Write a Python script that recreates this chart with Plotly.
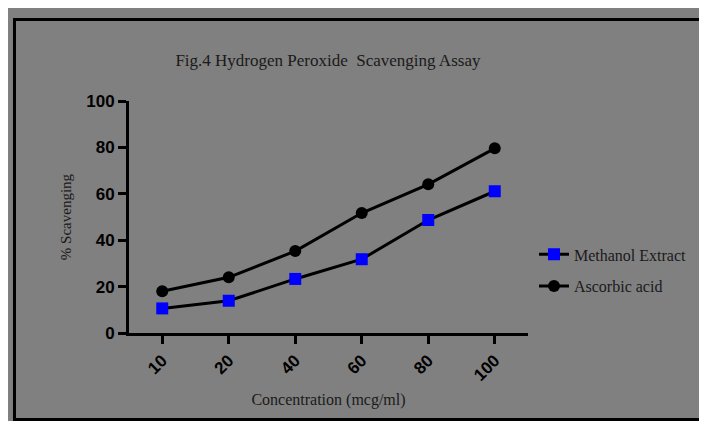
import plotly.graph_objects as go

# データ
concentrations = ['10', '20', '40', '60', '80', '100']
methanol_extract = [10.6, 13.9, 23.3, 31.8, 48.7, 61.1]
ascorbic_acid = [18.0, 24.0, 35.3, 51.7, 64.1, 79.6]

GRAY = '#808080'
SERIF = 'Liberation Serif, Times New Roman, serif'

fig = go.Figure()

fig.add_trace(
    go.Scatter(
        x=concentrations,
        y=methanol_extract,
        name='Methanol Extract',
        mode='lines+markers',
        line=dict(color='black', width=3),
        marker=dict(symbol='square', size=12, color='#0000ff'),
        legendgroup='a'
    )
)

fig.add_trace(
    go.Scatter(
        x=concentrations,
        y=ascorbic_acid,
        name='Ascorbic acid',
        mode='lines+markers',
        line=dict(color='black', width=3),
        marker=dict(symbol='circle', size=12, color='black'),
        legendgroup='b'
    )
)

axis_font = dict(family='Liberation Sans, Arial, sans-serif', size=17,
                 color='black', weight='bold')

fig.update_xaxes(
    type='category',
    range=[-0.5, 5.5],
    showline=True, linecolor='black', linewidth=3,
    showgrid=False, zeroline=False,
    ticks='outside', ticklen=8, tickwidth=3, tickcolor='black',
    tickangle=-45,
    tickfont=axis_font,
    title=dict(text='Concentration (mcg/ml)',
               font=dict(family=SERIF, size=16, color='#1a1a1a'),
               standoff=10)
)

fig.update_yaxes(
    range=[0, 100],
    tickvals=[0, 20, 40, 60, 80, 100],
    showline=True, linecolor='black', linewidth=3,
    showgrid=False, zeroline=False,
    ticks='outside', ticklen=8, tickwidth=3, tickcolor='black',
    tickfont=axis_font,
    title=dict(text='% Scavenging',
               font=dict(family=SERIF, size=15, color='#1a1a1a'),
               standoff=11)
)

# 枠線
fig.add_shape(type='rect', xref='paper', yref='paper',
              x0=-0.287, x1=1.5, y0=-0.373, y1=1.351,
              line=dict(color='black', width=3), layer='below')

fig.update_layout(
    width=691, height=413,
    margin=dict(l=121, r=171, t=93, b=88, autoexpand=False),
    paper_bgcolor=GRAY,
    plot_bgcolor=GRAY,
    title=dict(text='Fig.4 Hydrogen Peroxide  Scavenging Assay',
               font=dict(family=SERIF, size=17, color='#1a1a1a'),
               x=0.463, xanchor='center', y=0.874, yanchor='middle'),
    legend=dict(x=1.015, y=0.27, xanchor='left', yanchor='middle',
                bgcolor='rgba(0,0,0,0)',
                font=dict(family=SERIF, size=16, color='#1a1a1a'),
                tracegroupgap=8),
    showlegend=True
)

fig.write_html("out.html")
